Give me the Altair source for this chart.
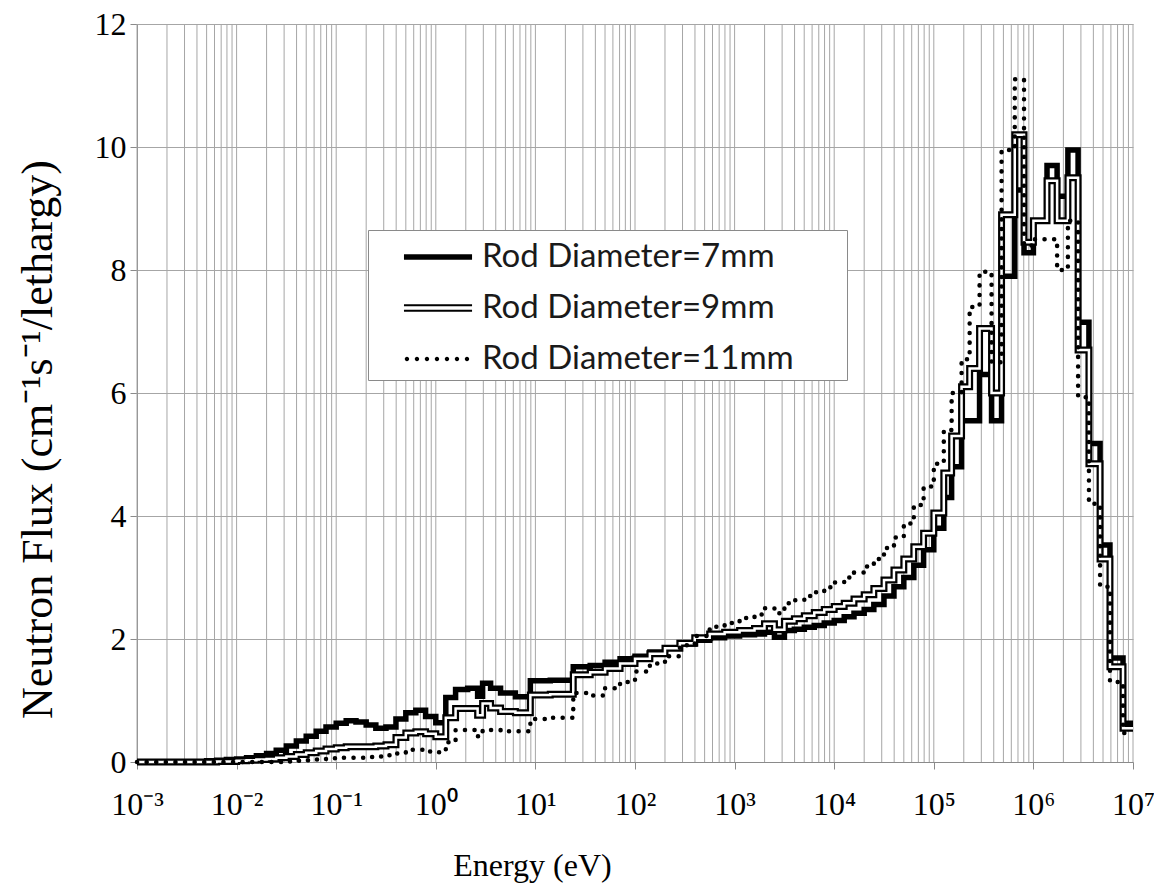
import json
import altair as alt
import pandas as pd

# ---------------- data ----------------
# lower energy-group edges in eV; last value is the upper edge of the last group
energy_edges = [
    1.0e-3, 5.0e-3, 6.3e-3, 7.9e-3, 1.0e-2, 1.26e-2, 1.58e-2, 2.0e-2, 2.5e-2,
    3.16e-2, 3.98e-2, 5.0e-2, 6.3e-2, 7.9e-2, 0.1, 0.126, 0.158, 0.2, 0.25,
    0.316, 0.398, 0.5, 0.63, 0.79,
    1.0, 1.26, 1.58, 2.09, 2.63, 2.95, 3.55, 4.47, 6.3, 8.9, 14.1,
    24.0, 35.5, 50.1, 70.8, 100.0, 141.0, 200.0, 282.0, 398.0, 562.0, 794.0, 1122.0,
    1585.0, 1995.0, 2512.0, 3162.0, 3981.0, 5012.0, 6310.0, 7943.0, 1.0e4, 1.26e4,
    1.58e4, 2.0e4, 2.5e4, 3.16e4, 3.98e4, 5.0e4, 6.3e4, 7.9e4, 1.0e5, 1.26e5,
    1.51e5, 1.9e5, 2.29e5, 2.88e5, 3.8e5, 4.79e5, 6.5e5, 8.05e5, 1.0e6, 1.37e6,
    1.73e6, 2.22e6, 2.81e6, 3.61e6, 4.67e6, 5.87e6, 7.94e6,
    1.0e7,
]

flux_7mm = [
    0.0, 0.02, 0.03, 0.04, 0.05, 0.07, 0.1, 0.14, 0.19, 0.26, 0.34, 0.42, 0.5, 0.57,
    0.63, 0.67, 0.65, 0.6, 0.55, 0.57, 0.7, 0.8, 0.84, 0.74,
    0.64, 1.05, 1.18, 1.2, 1.07, 1.28, 1.2, 1.12, 1.06, 1.32, 1.33,
    1.55, 1.57, 1.62, 1.68, 1.72, 1.79, 1.85, 1.92, 1.98, 2.02, 2.05, 2.07,
    2.08, 2.11, 2.03, 2.14, 2.16, 2.19, 2.22, 2.26, 2.3, 2.36, 2.42, 2.48, 2.56, 2.7,
    2.85, 3.0, 3.2, 3.45, 3.8, 4.3,
    4.8, 5.55, 5.55, 6.3, 5.55, 7.9, 9.3, 8.28, 8.8, 9.7, 9.2, 9.95, 7.15, 5.18,
    3.53, 1.69, 0.63,
]

flux_9mm = [
    0.0, 0.0, 0.01, 0.01, 0.02, 0.03, 0.04, 0.05, 0.07, 0.09, 0.12, 0.15, 0.18, 0.21,
    0.23, 0.25, 0.25, 0.25, 0.26, 0.28, 0.4, 0.47, 0.49, 0.46,
    0.41, 0.72, 0.87, 0.87, 0.76, 0.95, 0.88, 0.82, 0.8, 1.09, 1.1,
    1.42, 1.46, 1.52, 1.6, 1.68, 1.76, 1.85, 1.93, 2.02, 2.08, 2.11, 2.14,
    2.17, 2.25, 2.15, 2.29, 2.33, 2.38, 2.43, 2.48, 2.53, 2.58, 2.65, 2.72, 2.82, 2.96,
    3.12, 3.3, 3.5, 3.72, 4.05, 4.7,
    5.3, 6.1, 6.4, 7.05, 6.0, 8.9, 10.2, 8.45, 8.8, 9.45, 8.8, 9.5, 6.7, 4.85,
    3.3, 1.55, 0.55,
]

flux_11mm = [
    0.0, 0.0, 0.0, 0.0, 0.0, 0.0, 0.0, 0.0, 0.0, 0.01, 0.02, 0.03, 0.04, 0.06,
    0.07, 0.07, 0.07, 0.08, 0.09, 0.11, 0.14, 0.2, 0.2, 0.17,
    0.16, 0.32, 0.52, 0.52, 0.42, 0.52, 0.52, 0.5, 0.5, 0.7, 0.72,
    1.12, 1.08, 1.2, 1.3, 1.47, 1.6, 1.72, 1.9, 2.05, 2.2, 2.26, 2.34,
    2.4, 2.5, 2.42, 2.58, 2.63, 2.7, 2.76, 2.84, 2.92, 3.0, 3.08, 3.18, 3.3, 3.48,
    3.65, 3.88, 4.18, 4.48, 4.85, 5.4,
    6.0, 6.55, 7.4, 7.97, 6.5, 9.95, 11.1, 8.4, 8.5, 8.5, 8.0, 8.8, 5.93, 4.2,
    2.85, 1.3, 0.47,
]

series_names = ["Rod Diameter=7mm", "Rod Diameter=9mm", "Rod Diameter=11mm"]

x_tick_values = [1e-3, 1e-2, 1e-1, 1e0, 1e1, 1e2, 1e3, 1e4, 1e5, 1e6, 1e7]
x_tick_labels = ["10⁻³", "10⁻²", "10⁻¹", "10⁰", "10¹", "10²", "10³",
                 "10⁴", "10⁵", "10⁶", "10⁷"]
y_tick_values = [0, 2, 4, 6, 8, 10, 12]
minor_multipliers = [1, 2, 3, 4, 5, 6, 7, 8, 9]

# ---------------- tables ----------------
def step_rows(values, name):
    rows = [{"E": e, "flux": v, "series": name}
            for e, v in zip(energy_edges[:-1], values)]
    rows.append({"E": energy_edges[-1], "flux": values[-1], "series": name})
    return rows

df = pd.DataFrame(step_rows(flux_7mm, series_names[0])
                  + step_rows(flux_9mm, series_names[1])
                  + step_rows(flux_11mm, series_names[2]))

grid_df = pd.DataFrame({"E": [m * d for d in x_tick_values[:-1] for m in minor_multipliers]
                        + [x_tick_values[-1]]})

# legend carrier points sit outside the x domain and are clipped away
legend_df = pd.DataFrame({"series": series_names, "E": [1e-6] * 3, "flux": [0.0] * 3})

# ---------------- encodings ----------------
GRID = "#a6a6a6"
AXIS = "#8a8a8a"
SERIF = "Liberation Serif"

label_expr = json.dumps(x_tick_labels, ensure_ascii=False) + "[round(log(datum.value)/LN10) + 3]"

X = alt.X("E:Q",
          scale=alt.Scale(type="log", domain=[1e-3, 1e7], nice=False),
          axis=alt.Axis(values=x_tick_values, labelExpr=label_expr, grid=False,
                        tickSize=7, tickColor=AXIS, domainColor=AXIS,
                        labelFont=SERIF, labelFontSize=32, labelColor="black",
                        labelPadding=20, labelFlush=False,
                        title="Energy (eV)", titleFont=SERIF, titleFontSize=32,
                        titleFontWeight="normal", titleColor="black",
                        titlePadding=30, titleX=395))
Y = alt.Y("flux:Q",
          scale=alt.Scale(domain=[0, 12], nice=False),
          axis=alt.Axis(values=y_tick_values, grid=True, gridColor=GRID, gridWidth=1,
                        tickSize=7, tickColor=AXIS, domainColor=AXIS,
                        labelFont=SERIF, labelFontSize=32, labelColor="black",
                        labelPadding=4,
                        title="Neutron Flux (cm⁻¹s⁻¹/lethargy)", titleFont=SERIF,
                        titleFontSize=44, titleFontWeight="normal", titleColor="black",
                        titlePadding=34, titleY=415))

grid = alt.Chart(grid_df).mark_rule(color=GRID, strokeWidth=1).encode(x=X)

base = alt.Chart(df)
line7 = base.transform_filter(alt.datum.series == series_names[0]).mark_line(
    interpolate="step-after", color="black", strokeWidth=5.5, strokeJoin="miter"
).encode(x=X, y=Y)
line9_outer = base.transform_filter(alt.datum.series == series_names[1]).mark_line(
    interpolate="step-after", color="black", strokeWidth=7, strokeJoin="miter"
).encode(x=X, y=Y)
line9_inner = base.transform_filter(alt.datum.series == series_names[1]).mark_line(
    interpolate="step-after", color="white", strokeWidth=2.5, strokeJoin="miter"
).encode(x=X, y=Y)
line11 = base.transform_filter(alt.datum.series == series_names[2]).mark_line(
    interpolate="step-after", color="black", strokeWidth=4.5, strokeDash=[0.1, 9.5],
    strokeCap="round", strokeJoin="round"
).encode(x=X, y=Y)

# legend symbols (custom SVG paths, unit = sqrt(size)/2 px)
def dots_path(centers, r):
    return " ".join(f"M{c - r:.3f},0a{r},{r} 0 1,0 {2 * r:.3f},0a{r},{r} 0 1,0 {-2 * r:.3f},0"
                    for c in centers)

sym_solid = "M0.39,-0.115H3.35V0.115H0.39Z"
sym_double = "M0.39,-0.16H3.35V-0.075H0.39Z M0.39,0.075H3.35V0.16H0.39Z"
sym_dots = dots_path([0.52, 0.955, 1.39, 1.825, 2.26, 2.695, 3.13], 0.095)

leg = alt.Legend(orient="none", legendX=231, legendY=206, title=None,
                 padding=4, rowPadding=11, symbolSize=2116,
                 symbolStrokeWidth=0, symbolOpacity=1,
                 labelFont="Lato", labelFontSize=33, labelColor="#1a1a1a",
                 labelOffset=64, labelLimit=0,
                 labelExpr="datum.label + '\u2003\u2800'",
                 fillColor="white", strokeColor="#8a8a8a")

legend_pts = alt.Chart(legend_df).mark_point(
    filled=True, clip=True, color="black"
).encode(
    x=X, y=Y,
    shape=alt.Shape("series:N", scale=alt.Scale(domain=series_names,
                    range=[sym_solid, sym_double, sym_dots]), legend=leg),
)

chart = alt.layer(grid, line7, line9_outer, line9_inner, line11, legend_pts).properties(
    width=996, height=738,
    autosize=alt.AutoSizeParams(type="none"),
    padding={"left": 137, "top": 24, "right": 21, "bottom": 126},
    background="white",
).configure_view(stroke=None)

chart.save("out.html", embed_options={"renderer": "svg", "actions": False})
